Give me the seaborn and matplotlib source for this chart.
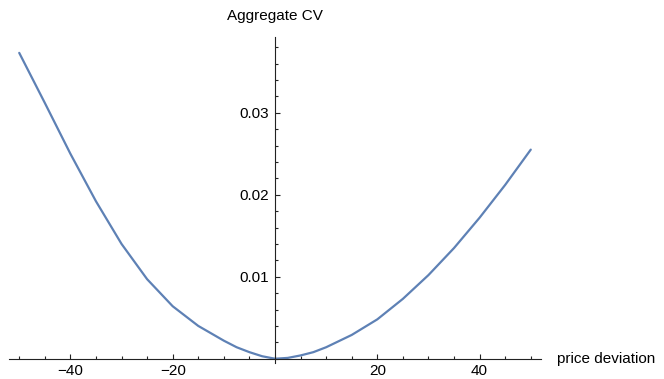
import matplotlib
matplotlib.use("Agg")
import matplotlib.pyplot as plt
from matplotlib.ticker import MultipleLocator, FixedLocator
import seaborn as sns

# valeurs
price_dev = [-50, -45, -40, -35, -30, -25, -20, -15, -10, -7.5, -5, -2.5, 0,
             2.5, 5, 7.5, 10, 15, 20, 25, 30, 35, 40, 45, 50]
aggregate_cv = [0.0373, 0.0312, 0.0250, 0.0192, 0.0140, 0.0097, 0.0064,
                0.0040, 0.0022, 0.0014, 0.0008, 0.0003, 0.0000,
                0.0001, 0.0004, 0.0008, 0.0014, 0.0029, 0.0048, 0.0073,
                0.0102, 0.0135, 0.0172, 0.0212, 0.0255]

x_major = [-40, -20, 20, 40]
y_major = [0.01, 0.02, 0.03]

sns.set_style("white")
plt.rcParams["font.family"] = ["Liberation Sans", "DejaVu Sans"]
plt.rcParams["text.color"] = "black"

fig = plt.figure(figsize=(6.64, 3.79), dpi=100)
ax = fig.add_axes([0.01355, 0.0427, 0.8012, 0.8589])

sns.lineplot(x=price_dev, y=aggregate_cv, ax=ax, color="#5E81B5",
             linewidth=1.6, clip_on=False, solid_joinstyle="round")

ax.set_xlim(-52, 52)
ax.set_ylim(-0.0005, 0.0392)

# axes style Mathematica : axes passant par l'origine
for side in ["top", "right"]:
    ax.spines[side].set_visible(False)
ax.spines["left"].set_position(("data", 0))
ax.spines["bottom"].set_position(("data", 0))
for side in ["left", "bottom"]:
    ax.spines[side].set_color("#222222")
    ax.spines[side].set_linewidth(0.8)

ax.xaxis.set_major_locator(FixedLocator(x_major))
ax.xaxis.set_minor_locator(MultipleLocator(5))
ax.yaxis.set_major_locator(FixedLocator(y_major))
ax.yaxis.set_minor_locator(MultipleLocator(0.002))
ax.set_xticklabels(["\u221240", "\u221220", "20", "40"])
ax.set_yticklabels(["0.01", "0.02", "0.03"])

ax.tick_params(which="both", direction="in", color="#222222", width=0.8,
               bottom=True, left=True, labelcolor="black")
ax.tick_params(which="major", length=3.6, labelsize=11, pad=4)
ax.tick_params(which="minor", length=2.2)

ax.text(55.1, 0, "price deviation", ha="left", va="center", fontsize=11,
        clip_on=False)
ax.text(0, 0.0418, "Aggregate CV", ha="center", va="center", fontsize=11,
        clip_on=False)
ax.set_xlabel("")
ax.set_ylabel("")

fig.savefig("out.png", dpi=100)
